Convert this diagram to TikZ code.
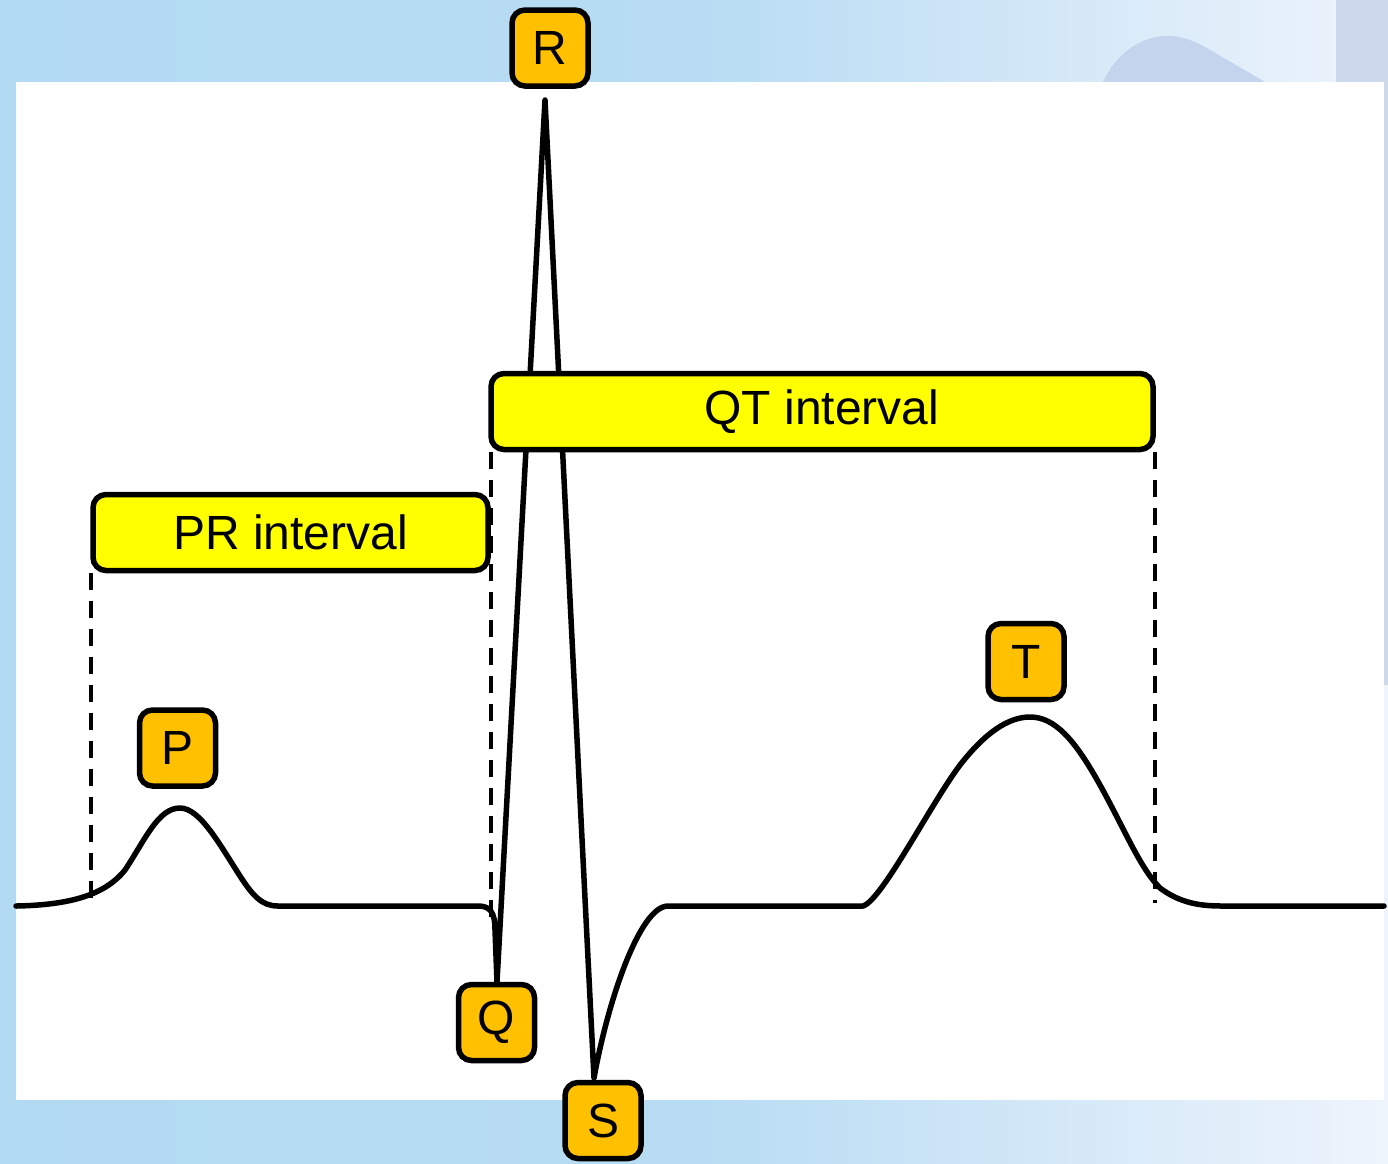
\documentclass[tikz,border=0pt]{standalone}
\usepackage{fontspec}
\setmainfont{Liberation Sans}
\definecolor{bgL}{HTML}{B2DAF2}
\definecolor{bgA}{HTML}{B7DCF3}
\definecolor{bgB}{HTML}{C9E3F6}
\definecolor{bgR}{HTML}{EEF4FC}
\definecolor{blob}{HTML}{C3D4EC}
\definecolor{strip}{HTML}{CCD8EC}
\definecolor{wavebox}{HTML}{FFC000}
\definecolor{intbox}{HTML}{FFFF00}
\pgfdeclarehorizontalshading{bgshade}{100bp}{color(0bp)=(bgL); color(25bp)=(bgL); color(50bp)=(bgA); color(58bp)=(bgB); color(75bp)=(bgR); color(100bp)=(bgR)}
\begin{document}
\begin{tikzpicture}[x=1pt,y=-1pt,
  letterbox/.style={draw=black,line width=5.5pt,rounded corners=13pt,fill=wavebox,
    minimum width=76pt,minimum height=76pt,inner sep=0pt,
    font=\fontsize{48}{56}\selectfont},
  intervalbox/.style={draw=black,line width=5.5pt,rounded corners=13pt,fill=intbox,
    minimum height=76pt,inner sep=0pt,
    font=\fontsize{48}{58}\selectfont},
  wave/.style={line width=5.5pt,line join=round,line cap=round},
  guide/.style={line width=4pt,dash pattern=on 17pt off 11pt}]
\useasboundingbox (0,0) rectangle (1388,1163);
% background
\shade[shading=bgshade] (0,0) rectangle (1388,1163);
\fill[blob] (1103,82) .. controls (1115,55) and (1140,36) .. (1167,36)
  .. controls (1182,36) and (1192,40) .. (1205,47) -- (1265,82) -- cycle;
\fill[strip] (1336,0) rectangle (1388,685);
\fill[white] (16,82) rectangle (1384,1100);
% guides
\coordinate (g1a) at (91,573);  \coordinate (g1b) at (91,903);
\coordinate (g2a) at (491,452); \coordinate (g2b) at (491,922);
\coordinate (g3a) at (1155,452); \coordinate (g3b) at (1155,903);
\draw[guide] (g1a) -- (g1b);
\draw[guide] (g2a) -- (g2b);
\draw[guide] (g3a) -- (g3b);
% waveform
\draw[wave] (16,906) .. controls (70,905) and (105,895) .. (125,870)
  .. controls (145,840) and (158,808) .. (180,808)
  .. controls (200,808) and (220,845) .. (240,876)
  .. controls (253,896) and (262,906) .. (278,906)
  -- (478,906) .. controls (490,906) and (495,912) .. (495,930)
  -- (497,982) -- (545,100) -- (594,1078)
  .. controls (608,1000) and (640,906) .. (668,906)
  -- (863,906) .. controls (882,900) and (930,805) .. (960,765)
  .. controls (985,733) and (1008,717) .. (1030,717)
  .. controls (1055,717) and (1075,740) .. (1100,785)
  .. controls (1125,830) and (1140,868) .. (1160,888)
  .. controls (1180,903) and (1200,906) .. (1222,906)
  -- (1384,906);
% labels
\node[letterbox] (R) at (550,48) {R};
\node[letterbox] (P) at (177.5,748) {P};
\node[letterbox] (T) at (1026,661.5) {T};
\node[letterbox] (Q) at (496.5,1022.5) {Q};
\node[letterbox] (S) at (603,1120.5) {S};
\node[intervalbox,minimum width=395pt] (PR) at (290.5,532.5) {PR interval};
\node[intervalbox,minimum width=662pt] (QT) at (822,411.5) {QT interval};
\end{tikzpicture}
\end{document}
